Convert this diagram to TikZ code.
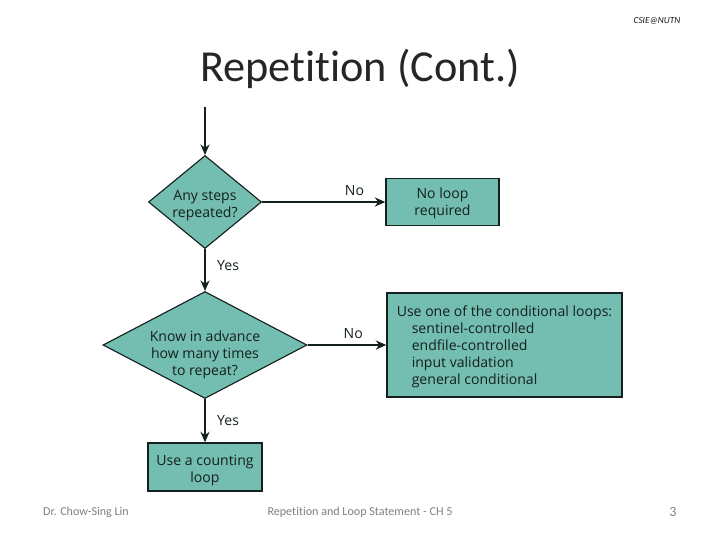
\documentclass[tikz,border=0pt]{standalone}
\usepackage{fontspec}
\setmainfont[Ligatures=NoCommon]{Carlito}
\newfontfamily\chartfont{Open Sans}
\usetikzlibrary{arrows.meta, positioning, shapes.geometric}
\definecolor{chartteal}{HTML}{74BDB1}
\definecolor{chartink}{HTML}{14201E}
\definecolor{footgrey}{HTML}{7F7F7F}

\begin{document}
\begin{tikzpicture}[
  chart/.style={font=\chartfont\fontsize{10}{12.1}\selectfont, text=chartink, align=center},
  question/.style={diamond, draw=chartink, fill=chartteal, line width=0.8pt, inner sep=0pt},
  outcome/.style={rectangle, draw=chartink, fill=chartteal, line width=1pt, chart},
  flow/.style={-{Stealth[length=7.5pt,width=6.5pt]}, line width=1.1pt, chartink},
  answer/.style={chart, inner sep=1pt},
  foot/.style={font=\fontsize{8.6}{11}\selectfont, text=footgrey},
]
\useasboundingbox (0, 0) rectangle (18, -13.5);

% Slide text
\node[font=\fontsize{31.5}{36}\selectfont, text=black!85] (title) at (9, -1.725) {Repetition (Cont.)};
\node[font=\itshape\fontsize{6.6}{8}\selectfont, text=black!90] (tag) at (16.425, -0.525) {CSIE@NUTN};
\node[foot] (author) at (2.15, -12.8) {Dr. Chow-Sing Lin};
\node[foot] (chapter) at (9, -12.8) {Repetition and Loop Statement - CH 5};
\node[foot, font=\fontsize{10}{11}\selectfont] (page) at (16.825, -12.8) {3};

% Flow chart
\coordinate (start) at (5.125, -2.675);
\node[question, aspect=1.215, minimum width=2.825cm, minimum height=2.325cm,
  label={[chart, yshift=-0.09cm]center:Any steps\\repeated?}] (q1) at (5.125, -5.05) {};
\node[question, aspect=1.9, minimum width=5.1cm, minimum height=2.675cm,
  label={[chart, yshift=-0.25cm]center:Know in advance\\how many times\\to repeat?}] (q2) at (5.125, -8.625) {};
\node[outcome, minimum width=2.825cm, minimum height=1.175cm] (noloop) at (11.0625, -5.05) {\rule{0pt}{9.1pt}No loop\\required};
\node[outcome, minimum width=5.875cm, minimum height=2.6cm, align=left] (condloop) at (12.6125, -8.625)
  {\rule{0pt}{9.8pt}Use one of the conditional loops:\\
   \hspace*{0.375cm}sentinel-controlled\\
   \hspace*{0.375cm}endfile-controlled\\
   \hspace*{0.375cm}input validation\\
   \hspace*{0.375cm}general conditional};
\node[outcome, minimum width=2.85cm, minimum height=1.2cm] (counting) at (5.125, -11.675) {\rule{0pt}{13pt}Use a counting\\loop};

\draw[flow] (start) -- (q1);
\draw[flow] (q1) -- node[answer, pos=0.39, right=0.25cm] {Yes} (q2);
\draw[flow] (q1) -- node[answer, pos=0.75, above=0.1cm] {No} (noloop);
\draw[flow] (q2) -- node[answer, pos=0.5, right=0.25cm] {Yes} (counting);
\draw[flow] (q2) -- node[answer, pos=0.58, above=0.1cm] {No} (condloop);

\end{tikzpicture}
\end{document}
